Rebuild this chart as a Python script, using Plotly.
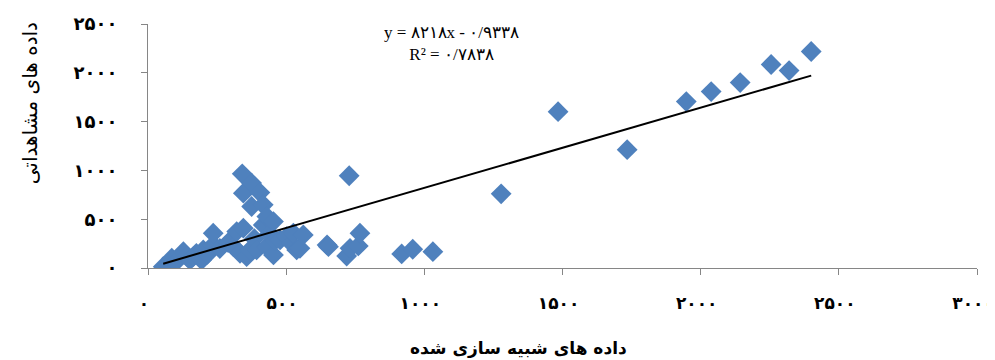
import plotly.graph_objects as go

# simulated (x) vs observed (y)
sim = [55, 70, 86, 100, 128, 140, 152, 164, 175, 194, 200, 215, 236, 236, 260, 290,
       309, 321, 333, 345, 341, 345, 357, 369, 375, 375, 385, 393, 405, 417, 417, 430,
       430, 440, 454, 454, 460, 478, 502, 520, 526, 538, 550, 562, 648, 653, 719, 728,
       731, 761, 767, 918, 958, 1031, 1278, 1484, 1734, 1948, 2038, 2143, 2255, 2320, 2400]
obs = [13, 40, 100, 60, 167, 120, 82, 116, 150, 82, 185, 140, 236, 356, 200, 260,
       219, 373, 151, 408, 965, 767, 116, 185, 870, 630, 300, 185, 773, 647, 441, 527,
       219, 350, 476, 134, 280, 288, 322, 250, 356, 185, 202, 339, 236, 219, 123, 945,
       202, 226, 356, 144, 192, 167, 760, 1602, 1212, 1705, 1808, 1900, 2085, 2023, 2218]

slope = 0.8218
intercept = -0.9338
tick_vals_x = [0, 500, 1000, 1500, 2000, 2500, 3000]
tick_text_x = ["۰", "۵۰۰", "۱۰۰۰", "۱۵۰۰", "۲۰۰۰", "۲۵۰۰", "۳۰۰۰"]
tick_vals_y = [0, 500, 1000, 1500, 2000, 2500]
tick_text_y = ["۰", "۵۰۰", "۱۰۰۰", "۱۵۰۰", "۲۰۰۰", "۲۵۰۰"]
eq_text = "y = ۸۲۱۸x - ۰/۹۳۳۸<br>R² = ۰/۷۸۳۸"
x_title = "<b>داده های شبیه سازی شده</b>"
y_title = "داده های مشاهداتی"

xmin, xmax = min(sim), max(sim)
trend_x = [xmin, xmax]
trend_y = [slope * v + intercept for v in trend_x]

fig = go.Figure()
fig.add_trace(go.Scatter(x=sim, y=obs, mode="markers",
                         marker=dict(symbol="diamond", size=16, color="#4F81BD",
                                     line=dict(width=0)),
                         showlegend=False))
fig.add_trace(go.Scatter(x=trend_x, y=trend_y, mode="lines",
                         line=dict(color="black", width=2), showlegend=False))

axis_common = dict(showgrid=False, zeroline=False, showline=True, linecolor="#868686",
                   linewidth=1, ticks="outside", ticklen=6, tickcolor="#868686",
                   automargin=False, ticklabeloverflow="allow")
fig.update_xaxes(range=[0, 3000], tickvals=tick_vals_x, ticktext=tick_text_x,
                 ticklabelstandoff=14, ticklabelshift=-4,
                 tickfont=dict(family="DejaVu Sans", size=17, color="black", weight="bold"),
                 **axis_common)
fig.update_yaxes(range=[0, 2500], tickvals=tick_vals_y, ticktext=tick_text_y,
                 ticklabelstandoff=20,
                 tickfont=dict(family="DejaVu Sans", size=18, color="black", weight="bold"),
                 **axis_common)

fig.add_annotation(x=1100, y=2300, xref="x", yref="y", text=eq_text,
                   showarrow=False, xanchor="center", yanchor="middle",
                   font=dict(family="Liberation Serif", size=17, color="black"))
fig.add_annotation(x=0.4475, y=-0.328, xref="paper", yref="paper", text=x_title,
                   showarrow=False, xanchor="center", yanchor="middle",
                   font=dict(family="DejaVu Sans", size=17, color="black"))
fig.add_annotation(x=-0.1423, y=0.675, xref="paper", yref="paper", text=y_title,
                   textangle=-90, showarrow=False, xanchor="center", yanchor="middle",
                   font=dict(family="DejaVu Sans", size=20, color="black"))

fig.update_layout(width=987, height=352, margin=dict(l=140, r=18, t=16, b=92),
                  plot_bgcolor="white", paper_bgcolor="white")
fig.write_html("out.html")
